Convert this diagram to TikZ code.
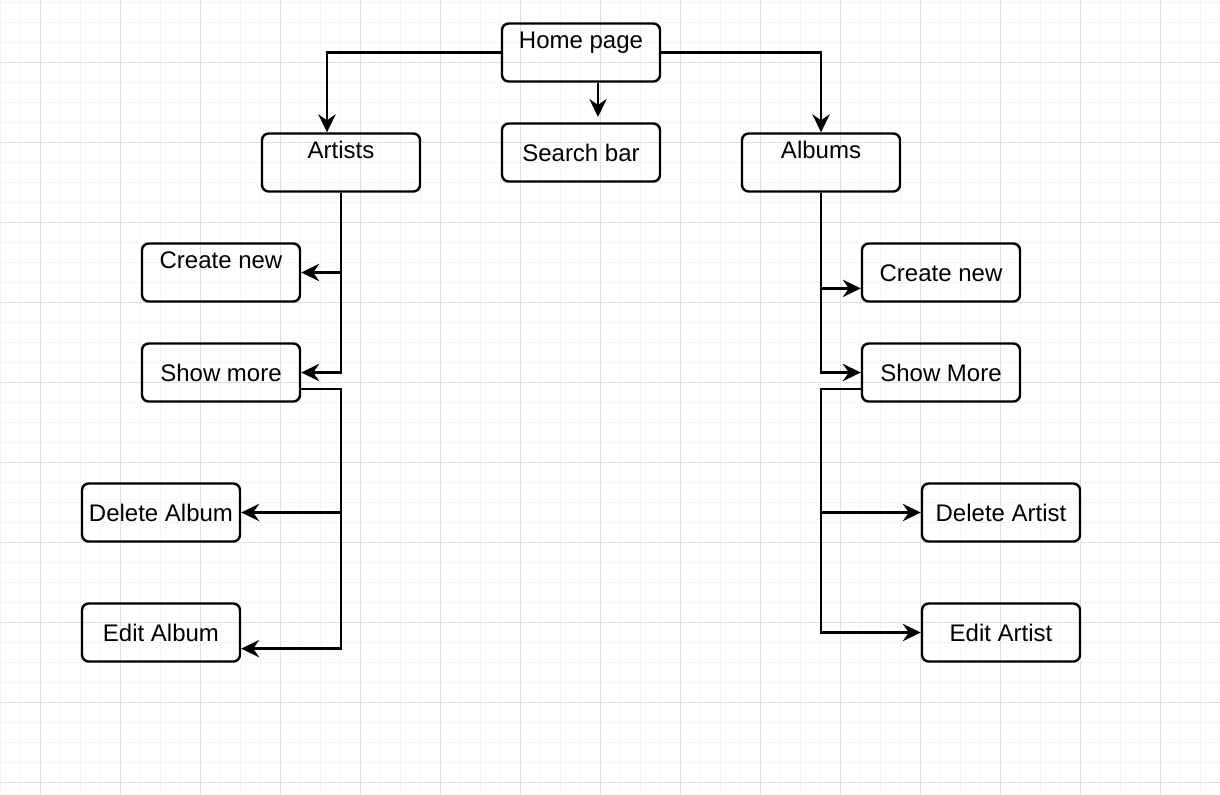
\documentclass[tikz,border=0pt]{standalone}
\usepackage{fontspec}
\setmainfont{Liberation Sans}
\usetikzlibrary{arrows.meta}
\definecolor{gridminor}{HTML}{F4F4F4}
\definecolor{gridmajor}{HTML}{DEDEDE}
\begin{document}
\begin{tikzpicture}[x=0.75pt,y=-0.75pt,
  lbl/.style={font=\fontsize{18}{20}\selectfont, inner sep=0pt, text height=13pt, text depth=0pt},
  box/.style={draw, line width=1.8pt, rounded corners=5pt, minimum width=118.5pt, minimum height=43.5pt, inner sep=0pt, lbl},
  topbox/.style={box, label={[lbl, yshift=9.4pt]center:#1}},
  arr/.style={line width=1.8pt, -{Stealth[length=13.5pt,width=13pt,inset=4.5pt]}}]
\useasboundingbox (0,0) rectangle (1220,794);
% grid
\foreach \i in {0,20,...,1220} \draw[gridminor, line width=0.75pt] (\i,0) -- (\i,794);
\foreach \j in {2,22,...,794} \draw[gridminor, line width=0.75pt] (0,\j) -- (1220,\j);
\foreach \i in {40,120,...,1220} \draw[gridmajor, line width=0.75pt] (\i,0) -- (\i,794);
\foreach \j in {62,142,...,794} \draw[gridmajor, line width=0.75pt] (0,\j) -- (1220,\j);
% boxes
\node[topbox=Home page] (home) at (581,52.5) {};
\node[box] (search) at (581,152.5) {Search bar};
\node[topbox=Artists] (artists) at (341,162.5) {};
\node[topbox=Albums] (albums) at (821,162.5) {};
\node[topbox=Create new] (lcreate) at (221,272.5) {};
\node[box] (lshow) at (221,372.5) {Show more};
\node[box] (ldelete) at (161,512.5) {Delete Album};
\node[box] (ledit) at (161,632.5) {Edit Album};
\node[box] (rcreate) at (941,272.5) {Create new};
\node[box] (rshow) at (941,372.5) {Show More};
\node[box] (rdelete) at (1001,512.5) {Delete Artist};
\node[box] (redit) at (1001,632.5) {Edit Artist};
% connectors from home
\draw[arr] (home.west) -| ([xshift=-10.5pt]artists.north);
\draw[arr] ([xshift=12.75pt]home.south) -- ([xshift=12.75pt,yshift=4pt]search.north);
\draw[arr] (home.east) -| (albums.north);
% left side
\draw[arr] (artists.south) |- (lshow.east);
\draw[arr] (artists.south |- lcreate.east) -- (lcreate.east);
\coordinate (lbus) at (341,389);
\coordinate (le) at ([yshift=-12.1pt]ledit.east);
\draw[arr] (lshow.east |- lbus) -- (lbus) |- (le);
\draw[arr] (lbus |- ldelete.east) -- (ldelete.east);
% right side
\coordinate (rc) at ([yshift=-11.9pt]rcreate.west);
\draw[arr] (albums.south) |- (rshow.west);
\draw[arr] (albums.south |- rc) -- (rc);
\coordinate (rbus) at (821,389);
\draw[arr] (rshow.west |- rbus) -- (rbus) |- (redit.west);
\draw[arr] (rbus |- rdelete.west) -- (rdelete.west);
\end{tikzpicture}
\end{document}
